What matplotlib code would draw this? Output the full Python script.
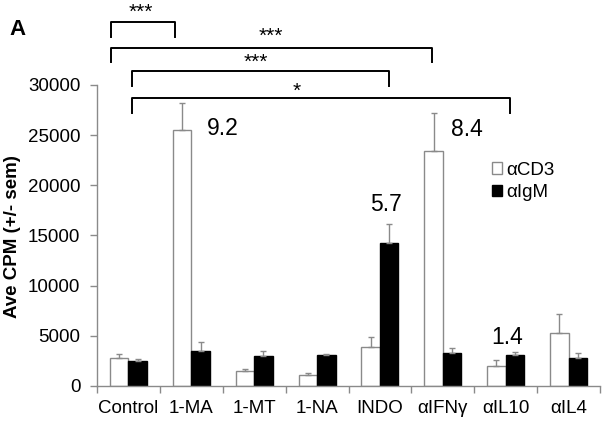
import numpy as np
import matplotlib
matplotlib.use('Agg')
import matplotlib.pyplot as plt

plt.rcParams['font.family'] = ['Liberation Sans', 'DejaVu Sans']

categories = ['Control', '1-MA', '1-MT', '1-NA', 'INDO', 'αIFNγ', 'αIL10', 'αIL4']
cd3 = [2760, 25550, 1460, 1060, 3860, 23450, 2030, 5320]
cd3_err = [400, 2620, 270, 270, 990, 3800, 560, 1880]
igm = [2490, 3520, 2990, 3090, 14230, 3320, 3090, 2760]
igm_err = [200, 900, 530, 130, 1920, 440, 300, 500]

# fold-change labels: (text, x, y)
fold_labels = [('9.2', 1.5, 25650), ('5.7', 4.1, 18100), ('8.4', 5.39, 25550), ('1.4', 6.03, 4800)]

# significance brackets: x1, x2, leg bottom, bar top, stars, star x, star y
brackets = [
    (-0.27, 0.74, 34830, 36320, '***', 0.2, 37200),
    (-0.27, 4.83, 32300, 33730, '***', 2.27, 34900),
    (0.05, 4.14, 29910, 31400, '***', 2.03, 32300),
    (0.05, 6.07, 27190, 28740, '*', 2.68, 29400),
]

grey = '#8a8a8a'
fig = plt.figure(figsize=(6.13, 4.32), dpi=100)
ax = fig.add_axes([97 / 613, 1 - 386 / 432, 503 / 613, 301 / 432])

x = np.arange(len(categories))
w = 0.295
ax.bar(x - w / 2, cd3, w, color='white', edgecolor=grey, linewidth=1.0, label='αCD3',
       yerr=[np.zeros(len(cd3)), cd3_err], error_kw=dict(ecolor=grey, elinewidth=1.0, capsize=2.5, capthick=1.0))
ax.bar(x + w / 2, igm, w, color='black', edgecolor='black', linewidth=1.0, label='αIgM',
       yerr=[np.zeros(len(igm)), igm_err], error_kw=dict(ecolor=grey, elinewidth=1.0, capsize=2.5, capthick=1.0))

ax.set_xlim(-0.5, len(categories) - 0.5)
ax.set_ylim(0, 30000)
ax.set_yticks(np.arange(0, 30001, 5000))
ax.set_xticks(np.arange(-0.5, len(categories), 1.0))
ax.set_xticklabels([])
ax.set_xticks(x, minor=True)
ax.set_xticklabels(categories, minor=True, fontsize=13.5)
ax.tick_params(axis='x', which='major', length=5, color=grey, width=1)
ax.tick_params(axis='x', which='minor', length=0, pad=10)
ax.tick_params(axis='y', length=5, color=grey, width=1, labelsize=13.5, pad=7)
for s in ['top', 'right']:
    ax.spines[s].set_visible(False)
for s in ['left', 'bottom']:
    ax.spines[s].set_color(grey)
    ax.spines[s].set_linewidth(1.0)

ax.set_ylabel('Ave CPM (+/- sem)', fontsize=13.5, fontweight='bold')
ax.yaxis.set_label_coords(-0.152, 0.495)

for txt, tx, ty in fold_labels:
    ax.text(tx, ty, txt, fontsize=16.5, ha='center', va='center')

for x1, x2, yb, yt, stars, sx, sy in brackets:
    ax.plot([x1, x1, x2, x2], [yb, yt, yt, yb], color='black', lw=1.4, clip_on=False)
    ax.text(sx, sy, stars, fontsize=15, ha='center', va='center')

ax.legend(loc='upper left', bbox_to_anchor=(0.785, 0.745), frameon=False, fontsize=13.5,
          handlelength=0.55, handleheight=0.55, handletextpad=0.2, labelspacing=0.3,
          borderpad=0, borderaxespad=0)

fig.text(18 / 613, 1 - 29.5 / 432, 'A', fontsize=16, fontweight='bold', ha='center', va='center')

fig.savefig('out.png', dpi=100)
